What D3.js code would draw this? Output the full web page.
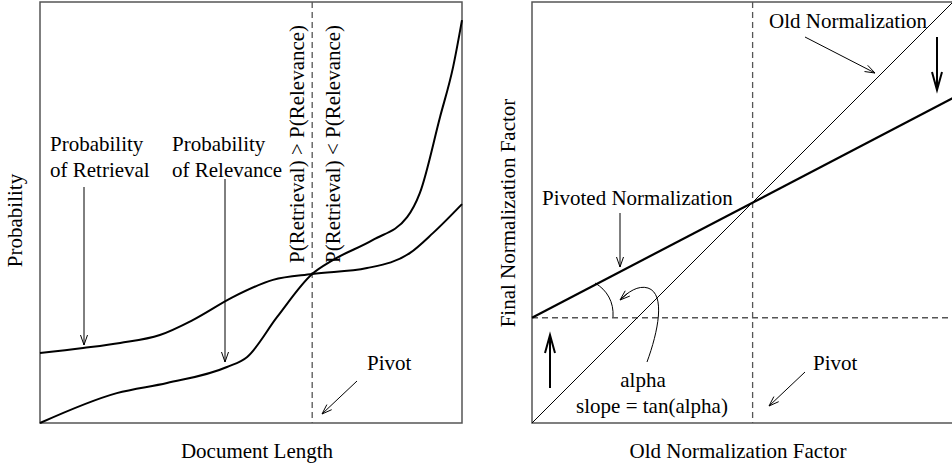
<!DOCTYPE html>
<html>
<head>
<meta charset="utf-8">
<script src="https://cdn.jsdelivr.net/npm/d3@7"></script>
<style>
  body { margin: 0; background: #fff; }
  text { font-family: "Liberation Serif", "Times New Roman", serif; font-size: 21px; fill: #000; }
</style>
</head>
<body>
<div id="chart"></div>
<script>
// left panel: two probability curves vs document length (normalized units)
var retrievalX = [0, 0.102, 0.19, 0.284, 0.363, 0.457, 0.552, 0.645, 0.775, 0.877, 0.931, 1.0];
var retrievalY = [0.166, 0.178, 0.19, 0.209, 0.245, 0.299, 0.340, 0.354, 0.368, 0.404, 0.451, 0.520];
var relevanceX = [0, 0.182, 0.301, 0.443, 0.491, 0.562, 0.645, 0.694, 0.789, 0.870, 0.900, 0.948, 0.979, 1.0];
var relevanceY = [0, 0.071, 0.095, 0.133, 0.157, 0.252, 0.354, 0.387, 0.435, 0.489, 0.546, 0.727, 0.846, 0.957];
var pivotLeft = 0.645;

// right panel: old vs pivoted normalization
var oldX = [0, 1];
var oldY = [0, 1];
var pivotedX = [0, 1];
var pivotedY = [0.25, 0.772];
var pivotRight = 0.524;

var W = 952, H = 468;
var svg = d3.select("#chart").append("svg")
    .attr("width", W)
    .attr("height", H);

function arrow(g, x1, y1, x2, y2, len, half, sw) {
  var a = Math.atan2(y2 - y1, x2 - x1);
  g.append("line")
      .attr("x1", x1).attr("y1", y1).attr("x2", x2).attr("y2", y2)
      .attr("stroke", "#000").attr("stroke-width", sw);
  var p1 = [x2 - len * Math.cos(a) + half * Math.sin(a), y2 - len * Math.sin(a) - half * Math.cos(a)];
  var p2 = [x2 - len * Math.cos(a) - half * Math.sin(a), y2 - len * Math.sin(a) + half * Math.cos(a)];
  g.append("path")
      .attr("d", "M" + p1 + "L" + [x2, y2] + "L" + p2)
      .attr("fill", "none").attr("stroke", "#000").attr("stroke-width", sw);
}

function frame(g, w, h) {
  g.append("rect")
      .attr("width", w).attr("height", h)
      .attr("fill", "none").attr("stroke", "#555").attr("stroke-width", 1.5);
}

// ---------- left panel ----------
var lw = 422, lh = 421;
var left = svg.append("g").attr("transform", "translate(40,2)");
var xL = d3.scaleLinear().domain([0, 1]).range([0, lw]);
var yL = d3.scaleLinear().domain([0, 1]).range([lh, 0]);

frame(left, lw, lh);

left.append("line")
    .attr("x1", xL(pivotLeft)).attr("x2", xL(pivotLeft))
    .attr("y1", 0).attr("y2", lh)
    .attr("stroke", "#555").attr("stroke-width", 1.3)
    .attr("stroke-dasharray", "6,4");

var lineL = d3.line()
    .x(function(d) { return xL(d[0]); })
    .y(function(d) { return yL(d[1]); })
    .curve(d3.curveMonotoneX);

left.append("path")
    .datum(d3.zip(retrievalX, retrievalY))
    .attr("d", lineL)
    .attr("fill", "none").attr("stroke", "#000").attr("stroke-width", 2);

left.append("path")
    .datum(d3.zip(relevanceX, relevanceY))
    .attr("d", lineL)
    .attr("fill", "none").attr("stroke", "#000").attr("stroke-width", 2);

left.append("text").attr("x", 10).attr("y", 149).text("Probability");
left.append("text").attr("x", 10).attr("y", 175).text("of Retrieval");
left.append("text").attr("x", 132).attr("y", 149).text("Probability");
left.append("text").attr("x", 132).attr("y", 175).text("of Relevance");
arrow(left, 44, 185, 44, 343, 10, 3.5, 1);
arrow(left, 185, 177, 185, 360, 10, 3.5, 1);

left.append("text")
    .attr("transform", "translate(264,261) rotate(-90)")
    .text("P(Retrieval) > P(Relevance)");
left.append("text")
    .attr("transform", "translate(300,261) rotate(-90)")
    .text("P(Retrieval) < P(Relevance)");

left.append("text").attr("x", 327).attr("y", 368).text("Pivot");
arrow(left, 317, 379, 282, 412, 10, 3.5, 1);

svg.append("text")
    .attr("x", 40 + lw / 2 + 6).attr("y", 458)
    .style("text-anchor", "middle")
    .text("Document Length");
svg.append("text")
    .attr("transform", "translate(22," + (2 + lh / 2 + 8) + ") rotate(-90)")
    .style("text-anchor", "middle")
    .text("Probability");

// ---------- right panel ----------
var rw = 421, rh = 421;
var right = svg.append("g").attr("transform", "translate(532,2)");
var xR = d3.scaleLinear().domain([0, 1]).range([0, rw]);
var yR = d3.scaleLinear().domain([0, 1]).range([rh, 0]);

frame(right, rw, rh);

right.append("line")
    .attr("x1", xR(pivotRight)).attr("x2", xR(pivotRight))
    .attr("y1", 0).attr("y2", rh)
    .attr("stroke", "#555").attr("stroke-width", 1.3)
    .attr("stroke-dasharray", "6,4");
right.append("line")
    .attr("x1", 0).attr("x2", rw)
    .attr("y1", yR(pivotedY[0])).attr("y2", yR(pivotedY[0]))
    .attr("stroke", "#555").attr("stroke-width", 1.3)
    .attr("stroke-dasharray", "6,4");

var lineR = d3.line()
    .x(function(d) { return xR(d[0]); })
    .y(function(d) { return yR(d[1]); });

right.append("path")
    .datum(d3.zip(oldX, oldY))
    .attr("d", lineR)
    .attr("fill", "none").attr("stroke", "#000").attr("stroke-width", 1);
right.append("path")
    .datum(d3.zip(pivotedX, pivotedY))
    .attr("d", lineR)
    .attr("fill", "none").attr("stroke", "#000").attr("stroke-width", 2.2);

right.append("text").attr("x", 237).attr("y", 26).text("Old Normalization");
arrow(right, 273, 35, 343, 71, 10, 3.5, 1);
arrow(right, 405, 35, 405, 88, 18, 5, 2);

right.append("text").attr("x", 10).attr("y", 203).text("Pivoted Normalization");
arrow(right, 88, 211, 88, 265, 10, 3.5, 1);
arrow(right, 18, 386, 18, 333, 18, 5, 2);

// angle arc
right.append("path")
    .attr("d", "M63,281 C75,288 82,300 81,315")
    .attr("fill", "none").attr("stroke", "#000").attr("stroke-width", 1);
// curved pointer to the arc
right.append("path")
    .attr("d", "M115,360 C126,330 134,292 116,286 C106,283 96,290 88,298")
    .attr("fill", "none").attr("stroke", "#000").attr("stroke-width", 1);
arrow(right, 96, 291, 88, 298, 10, 3.5, 1);

right.append("text").attr("x", 111).attr("y", 385)
    .style("text-anchor", "middle").text("alpha");
right.append("text").attr("x", 120).attr("y", 411)
    .style("text-anchor", "middle").text("slope = tan(alpha)");

right.append("text").attr("x", 281).attr("y", 368).text("Pivot");
arrow(right, 273, 370, 237, 404, 10, 3.5, 1);

svg.append("text")
    .attr("x", 738).attr("y", 458)
    .style("text-anchor", "middle")
    .text("Old Normalization Factor");
svg.append("text")
    .attr("transform", "translate(515,213) rotate(-90)")
    .style("text-anchor", "middle")
    .text("Final Normalization Factor");
</script>
</body>
</html>
